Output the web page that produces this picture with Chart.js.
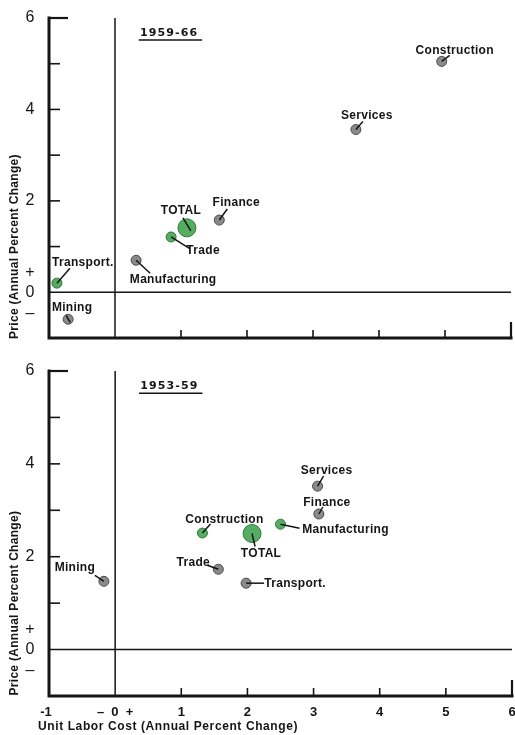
<!DOCTYPE html>
<html>
<head>
<meta charset="utf-8">
<script src="https://cdn.jsdelivr.net/npm/chart.js@4.4.1/dist/chart.umd.min.js"></script>
<style>
  html, body { margin: 0; padding: 0; background: #fff; }
  #wrap { position: relative; width: 515px; height: 735px; overflow: hidden; }
  canvas { position: absolute; left: 0; }
</style>
</head>
<body>
<div id="wrap">
  <canvas id="panelTop" width="515" height="355" style="top:0"></canvas>
  <canvas id="panelBottom" width="515" height="380" style="top:355px"></canvas>
</div>
<script>
// ---- 1959-66 ----
const sectors5966 = ['Construction', 'Services', 'Finance', 'TOTAL', 'Trade', 'Manufacturing', 'Transport.', 'Mining'];
const ulc5966     = [4.95, 3.65, 1.58, 1.09, 0.85, 0.32, -0.88, -0.71];
const price5966   = [5.05, 3.56, 1.58, 1.41, 1.21, 0.70, 0.20, -0.59];
const green5966   = [false, false, false, true, true, false, true, false];

// ---- 1953-59 ----
const sectors5359 = ['Mining', 'Construction', 'TOTAL', 'Trade', 'Transport.', 'Manufacturing', 'Finance', 'Services'];
const ulc5359     = [-0.17, 1.32, 2.07, 1.56, 1.98, 2.50, 3.08, 3.06];
const price5359   = [1.47, 2.51, 2.50, 1.73, 1.43, 2.70, 2.92, 3.52];
const green5359   = [false, true, true, false, false, true, false, false];

// axis tick labels
const yLabelValues = [6, 4, 2, 0.42, 0, -0.46];
const yLabelTexts  = ['6', '4', '2', '+', '0', '\u2013'];
const xLabelValues = [-1, 0, 1, 2, 3, 4, 5, 6];
const xLabelTexts  = ['-1', '\u2013  0  +', '1', '2', '3', '4', '5', '6'];
const yTickValues  = [5, 4, 3, 2, 1];
const xTickValues  = [1, 2, 3, 4, 5];

// label placement (pixel offsets from each dot): text centre and leader line
const labelLayout5966 = {
  'Construction':  { t: [13, -11], l: [0, 0, 8, -6] },
  'Services':      { t: [11, -14], l: [0, 0, 7, -8] },
  'Finance':       { t: [17, -17], l: [0, 0, 8, -11] },
  'TOTAL':         { t: [-6, -17], l: [4, 3, -4, -10] },
  'Trade':         { t: [32, 14],  l: [0, 0, 19, 12] },
  'Manufacturing': { t: [37, 19],  l: [0, 0, 14, 13] },
  'Transport.':    { t: [26, -20], l: [0, 0, 13, -15] },
  'Mining':        { t: [4, -12],  l: [-2, -4, 2, 3] }
};
const labelLayout5359 = {
  'Mining':        { t: [-29, -14], l: [0, 0, -9, -6] },
  'Construction':  { t: [22, -13],  l: [0, 0, 8, -9] },
  'TOTAL':         { t: [9, 20],    l: [0, 0, 3, 13] },
  'Trade':         { t: [-25, -7],  l: [0, 0, -11, -4] },
  'Transport.':    { t: [49, 1],    l: [0, 0, 18, 0] },
  'Manufacturing': { t: [65, 5],    l: [0, 0, 19, 4] },
  'Finance':       { t: [8, -11],   l: [0, 0, 4, -7] },
  'Services':      { t: [9, -15],   l: [0, 0, 6, -10] }
};

const INK = '#151515';
const GREEN = '#55ad62', GREEN_EDGE = '#2f7a3c';
const GRAY = '#8a8a8a', GRAY_EDGE = '#4a4a4a';
const LABEL_FONT = 'bold 12px "Liberation Sans", Arial, sans-serif';

function seg(ctx, x1, y1, x2, y2) {
  ctx.beginPath(); ctx.moveTo(x1, y1); ctx.lineTo(x2, y2); ctx.stroke();
}

const frame = {
  id: 'frame',
  beforeDatasetsDraw(chart, args, opts) {
    const ctx = chart.ctx;
    const xs = chart.scales.x, ys = chart.scales.y;
    const X = v => xs.getPixelForValue(v), Y = v => ys.getPixelForValue(v);
    ctx.save();
    ctx.strokeStyle = INK;
    ctx.fillStyle = INK;

    // zero lines
    ctx.lineWidth = 1.5;
    seg(ctx, X(0), Y(6), X(0), Y(-1));
    seg(ctx, X(-1), Y(0), X(6), Y(0));

    // inward ticks
    ctx.lineWidth = 1.6;
    yTickValues.forEach(v => seg(ctx, X(-1), Y(v), X(-1) + 11, Y(v)));
    xTickValues.forEach(v => seg(ctx, X(v), Y(-1), X(v), Y(-1) - 8));
    ctx.lineWidth = 2.2;
    seg(ctx, X(-1), Y(6), X(-1) + 19, Y(6));
    seg(ctx, X(6), Y(-1), X(6), Y(-1) - 16);

    // main axes
    ctx.lineWidth = 3;
    ctx.lineCap = 'square';
    ctx.beginPath();
    ctx.moveTo(X(-1), Y(6));
    ctx.lineTo(X(-1), Y(-1));
    ctx.lineTo(X(6), Y(-1));
    ctx.stroke();
    ctx.lineCap = 'butt';

    // y tick labels
    ctx.font = '16px "Liberation Sans", Arial, sans-serif';
    ctx.textAlign = 'center';
    ctx.textBaseline = 'middle';
    yLabelValues.forEach((v, i) => ctx.fillText(yLabelTexts[i], X(-1) - 19, Y(v)));

    // y title
    ctx.save();
    ctx.font = LABEL_FONT;
    ctx.letterSpacing = '0.3px';
    ctx.translate(15, Y(1));
    ctx.rotate(-Math.PI / 2);
    ctx.fillText('Price (Annual Percent Change)', 0, 0);
    ctx.restore();

    // period title, underlined
    ctx.save();
    ctx.font = 'bold 11px "DejaVu Sans", sans-serif';
    ctx.letterSpacing = '1.1px';
    ctx.fillText(opts.title, X(0.82), Y(5.67));
    ctx.restore();
    ctx.lineWidth = 1.5;
    seg(ctx, X(0.36), Y(5.67) + 7, X(1.32), Y(5.67) + 7);

    // x tick labels and title only on the lower panel
    if (opts.xLabels) {
      ctx.font = 'bold 13px "Liberation Sans", Arial, sans-serif';
      xLabelValues.forEach((v, i) => {
        const dx = v === -1 ? -3 : 0;
        ctx.fillText(xLabelTexts[i], X(v) + dx, Y(-1) + 16);
      });
      ctx.save();
      ctx.font = LABEL_FONT;
      ctx.letterSpacing = '0.6px';
      ctx.fillText('Unit Labor Cost (Annual Percent Change)', X(0.8), Y(-1) + 31);
      ctx.restore();
    }
    ctx.restore();
  },
  afterDatasetsDraw(chart, args, opts) {
    const ctx = chart.ctx;
    const meta = chart.getDatasetMeta(0);
    ctx.save();
    ctx.strokeStyle = INK;
    ctx.fillStyle = INK;
    ctx.lineWidth = 1.5;
    ctx.font = LABEL_FONT;
    ctx.letterSpacing = '0.3px';
    ctx.textAlign = 'center';
    ctx.textBaseline = 'middle';
    opts.names.forEach((name, i) => {
      const el = meta.data[i];
      const lay = opts.layout[name];
      const px = el.x, py = el.y;
      seg(ctx, px + lay.l[0], py + lay.l[1], px + lay.l[2], py + lay.l[3]);
      ctx.fillText(name, px + lay.t[0], py + lay.t[1]);
    });
    ctx.restore();
  }
};

function makePanel(id, names, ulc, price, green, layout, title, padding, xLabels) {
  const pts = ulc.map((x, i) => ({ x: x, y: price[i] }));
  const radii = names.map(n => n === 'TOTAL' ? 9 : 5);
  new Chart(document.getElementById(id), {
    type: 'scatter',
    data: {
      datasets: [{
        data: pts,
        pointRadius: radii,
        pointHoverRadius: radii,
        pointBackgroundColor: green.map(g => g ? GREEN : GRAY),
        pointBorderColor: green.map(g => g ? GREEN_EDGE : GRAY_EDGE),
        pointBorderWidth: 1
      }]
    },
    options: {
      responsive: false,
      animation: false,
      events: [],
      layout: { padding: padding, autoPadding: false },
      plugins: {
        legend: { display: false },
        tooltip: { enabled: false },
        frame: { title: title, names: names, layout: layout, xLabels: xLabels }
      },
      scales: {
        x: { type: 'linear', min: -1, max: 6, display: false },
        y: { type: 'linear', min: -1, max: 6, display: false }
      }
    },
    plugins: [frame]
  });
}

makePanel('panelTop', sectors5966, ulc5966, price5966, green5966, labelLayout5966, '1959-66',
  { left: 49, right: 4, top: 18, bottom: 17 }, false);
makePanel('panelBottom', sectors5359, ulc5359, price5359, green5359, labelLayout5359, '1953-59',
  { left: 49, right: 3, top: 16, bottom: 39 }, true);
</script>
</body>
</html>
